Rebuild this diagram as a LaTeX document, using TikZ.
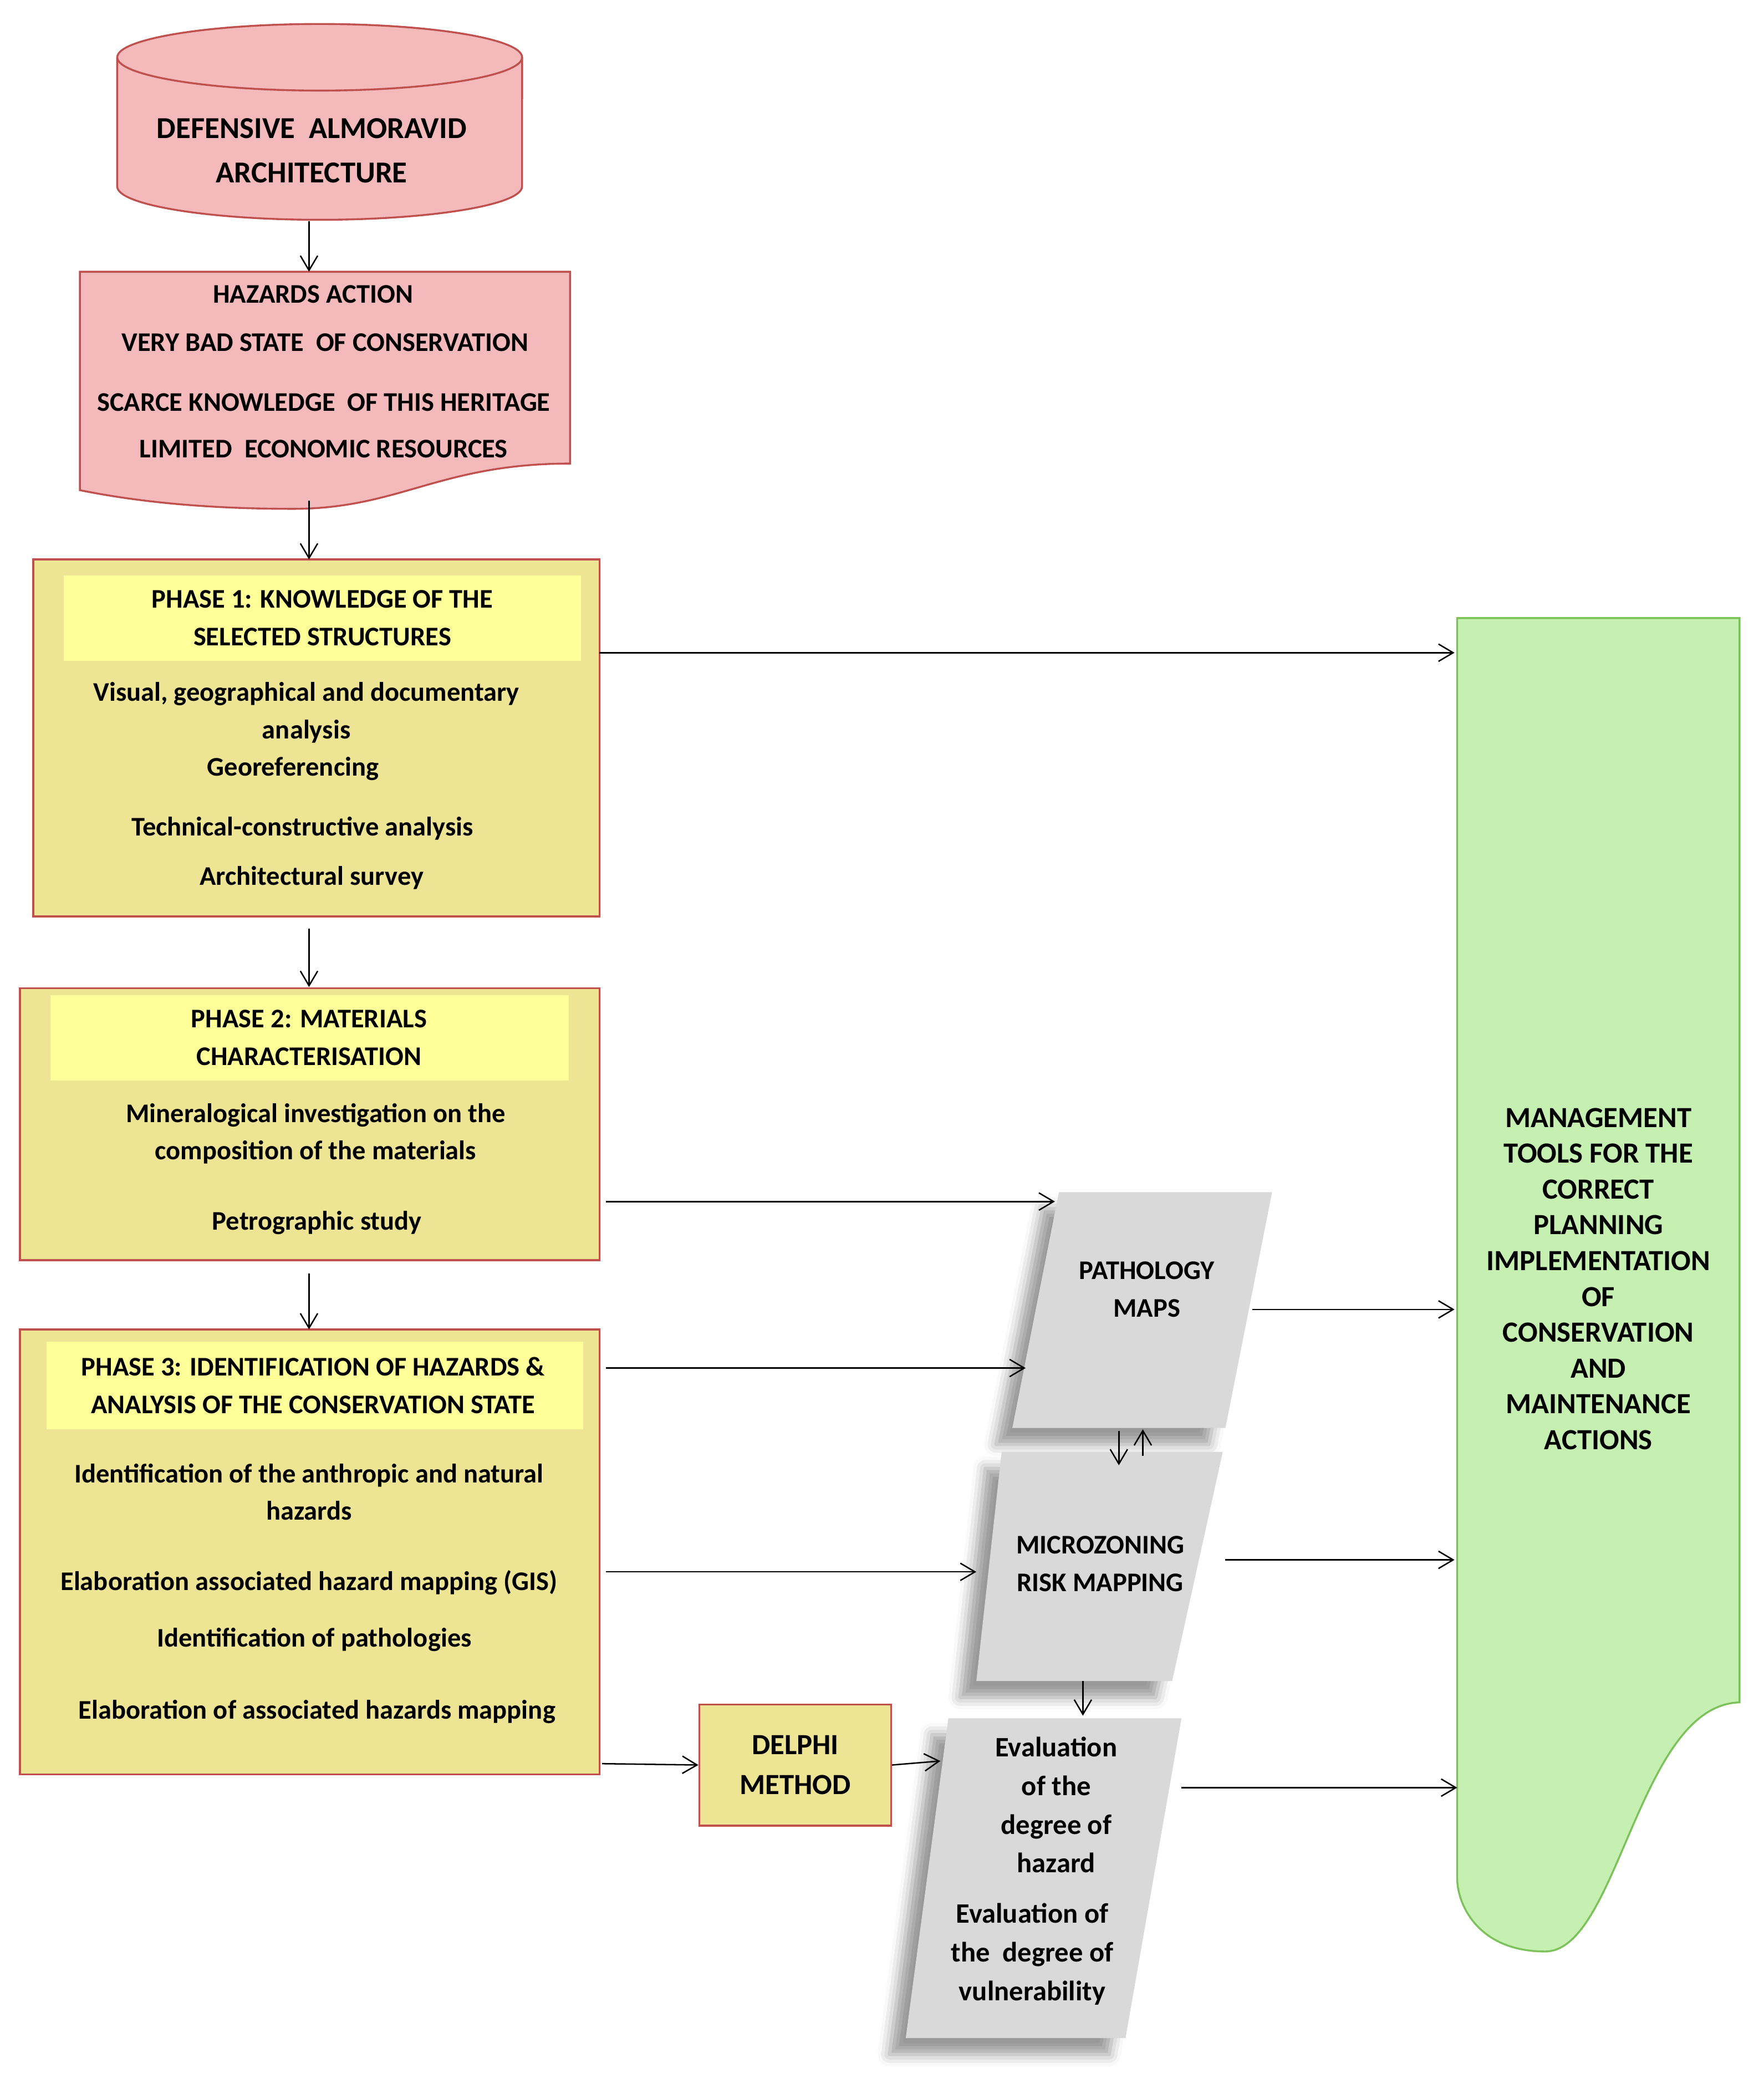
\documentclass[tikz,border=0pt]{standalone}
\usepackage{fontspec}
\setmainfont{Carlito}
\usetikzlibrary{arrows.meta,shadows.blur}
\definecolor{pinkf}{HTML}{F4B9BB}
\definecolor{redb}{HTML}{C0504D}
\definecolor{khaki}{HTML}{EEE594}
\definecolor{lyel}{HTML}{FFFF99}
\definecolor{lgreen}{HTML}{C6EFB2}
\definecolor{gbord}{HTML}{7CC25A}
\definecolor{pgrey}{HTML}{D9D9D9}
\begin{document}
\begin{tikzpicture}[x=0.02cm,y=-0.02cm,
  txt/.style={font=\bfseries\fontsize{11.5}{14}\selectfont,align=center,inner sep=0},
  box/.style={fill=khaki,draw=redb,line width=0.8pt},
  hdr/.style={fill=lyel},
  arr/.style={-{Straight Barb[length=2.2mm,width=2.6mm]},line width=0.6pt},
  para/.style={fill=pgrey,blur shadow={shadow xshift=-7pt,shadow yshift=-7pt,shadow blur radius=5pt}}]
\useasboundingbox (0,0) rectangle (1324,1572);
% cylinder
\fill[pinkf] (88,43) -- (88,140) arc[start angle=180,end angle=360,x radius=3.04cm,y radius=0.5cm] -- (392,43) -- cycle;
\draw[redb,line width=0.8pt] (88,43) -- (88,140) arc[start angle=180,end angle=360,x radius=3.04cm,y radius=0.5cm] -- (392,43);
\draw[redb,fill=pinkf,line width=0.8pt] (240,43) ellipse[x radius=3.04cm,y radius=0.5cm];
\node[txt,font=\bfseries\fontsize{13}{19}\selectfont] (cyl) at (234,113) {DEFENSIVE\ \ ALMORAVID\\ARCHITECTURE};
\coordinate (cylb) at (232,166);
% document
\draw[redb,fill=pinkf,line width=0.8pt] (60,204) -- (428,204) -- (428,348) .. controls (330,348) and (300,382) .. (220,382) .. controls (140,382) and (90,374) .. (60,368) -- cycle;
\node[txt] (h1) at (235,221) {HAZARDS ACTION};
\node[txt] (h2) at (244,257) {VERY BAD STATE\ \ OF CONSERVATION};
\node[txt] (h3) at (243,302) {SCARCE KNOWLEDGE\ \ OF THIS HERITAGE};
\node[txt] (h4) at (243,337) {LIMITED\ \ ECONOMIC RESOURCES};
\coordinate (doct) at (232,204);
\coordinate (docb) at (232,376);
% phase 1
\draw[box] (25,420) rectangle (450,688);
\fill[hdr] (48,432) rectangle (436,496);
\node (p1) at (237,554) {};
\node[txt] at (242,464) {PHASE 1: KNOWLEDGE OF THE\\[2pt]SELECTED STRUCTURES};
\node[txt] at (230,535) {Visual, geographical and documentary\\[2pt]analysis};
\node[txt] at (220,577) {Georeferencing};
\node[txt] at (227,622) {Technical-constructive analysis};
\node[txt] at (234,659) {Architectural survey};
% phase 2
\draw[box] (15,742) rectangle (450,946);
\fill[hdr] (38,747) rectangle (427,811);
\node[txt] at (232,779) {PHASE 2: MATERIALS\\[2pt]CHARACTERISATION};
\node[txt] at (237,851) {Mineralogical investigation on the\\[2pt]composition of the materials};
\node[txt] at (238,918) {Petrographic study};
% phase 3
\draw[box] (15,998) rectangle (450,1332);
\fill[hdr] (35,1007) rectangle (438,1073);
\node[txt] at (235,1040) {PHASE 3: IDENTIFICATION OF HAZARDS \&\\[2pt]ANALYSIS OF THE CONSERVATION STATE};
\node[txt] at (232,1120) {Identification of the anthropic and natural\\[2pt]hazards};
\node[txt] at (232,1188) {Elaboration associated hazard mapping (GIS)};
\node[txt] at (236,1231) {Identification of pathologies};
\node[txt] at (238,1285) {Elaboration of associated hazards mapping};
% delphi
\node[box,minimum width=2.88cm,minimum height=1.82cm,txt,font=\bfseries\fontsize{12.5}{15}\selectfont] (del) at (597,1325) {DELPHI\\[2pt]METHOD};
% green
\draw[gbord,fill=lgreen,line width=0.8pt] (1094,464) -- (1306,464) -- (1306,1278) .. controls (1230,1280) and (1215,1465) .. (1160,1465) .. controls (1110,1465) and (1094,1430) .. (1094,1410) -- cycle;
\node[txt,font=\bfseries\fontsize{12.5}{15.3}\selectfont] (gr) at (1200,960) {MANAGEMENT\\TOOLS FOR THE\\CORRECT\\PLANNING\\IMPLEMENTATION\\OF\\CONSERVATION\\AND\\MAINTENANCE\\ACTIONS};
% parallelograms
\fill[para] (795,895) -- (955,895) -- (920,1072) -- (760,1072) -- cycle;
\node[txt] (pm) at (861,968) {PATHOLOGY\\[2pt]MAPS};
\fill[para] (752,1090) -- (918,1090) -- (880,1262) -- (733,1262) -- cycle;
\node[txt] (mz) at (826,1174) {MICROZONING\\[2pt]RISK MAPPING};
\fill[para] (712,1290) -- (887,1290) -- (845,1530) -- (680,1530) -- cycle;
\node[txt,font=\bfseries\fontsize{12}{16.5}\selectfont] (ev1) at (793,1355) {Evaluation\\of the\\degree of\\hazard};
\node[txt,font=\bfseries\fontsize{12}{16.5}\selectfont] (ev2) at (775,1467) {Evaluation of\\the\ \ degree of\\vulnerability};
% arrows
\draw[arr] (cylb) -- (doct);
\draw[arr] (docb) -- (232,420);
\draw[arr] (450,490) -- (1092,490);
\draw[arr] (232,697) -- (232,741);
\draw[arr] (232,956) -- (232,998);
\draw[arr] (455,902) -- (792,902);
\draw[arr] (455,1027) -- (770,1027);
\draw[arr] (455,1180) -- (733,1180);
\draw[arr] (452,1324) -- (del.west);
\draw[arr] (del.east) -- (706,1322);
\draw[arr] (940,983) -- (1092,983);
\draw[arr] (920,1171) -- (1092,1171);
\draw[arr] (887,1342) -- (1094,1342);
\draw[arr] (840,1074) -- (840,1100);
\draw[arr] (858,1093) -- (858,1073);
\draw[arr] (813,1262) -- (813,1288);
\end{tikzpicture}
\end{document}
